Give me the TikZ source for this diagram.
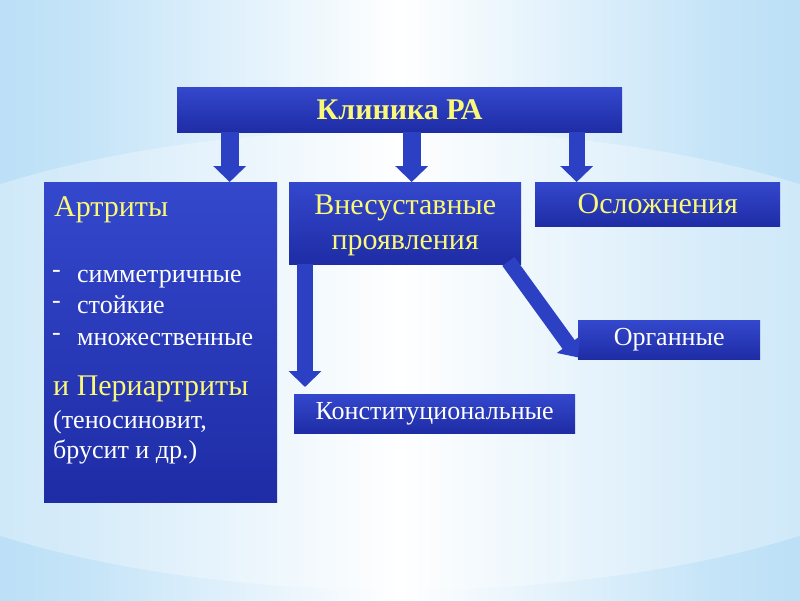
\documentclass[tikz,border=0pt]{standalone}
\usepackage{fontspec}
\setmainfont{Liberation Serif}
\usetikzlibrary{arrows.meta}
\definecolor{boxtop}{RGB}{52,72,205}
\definecolor{boxbot}{RGB}{30,44,165}
\definecolor{arrblue}{RGB}{44,64,196}
\definecolor{txtyellow}{RGB}{250,248,120}
\definecolor{skyblue}{RGB}{148,205,242}
\pgfdeclarehorizontalshading{skyband}{100bp}{color(0bp)=(skyblue); color(30bp)=(skyblue!55); color(50bp)=(white); color(70bp)=(skyblue!55); color(100bp)=(skyblue)}
\newcommand{\hdfont}{\fontsize{30}{35}\selectfont}
\newcommand{\itfont}{\fontsize{26}{30}\selectfont}
\tikzset{
    boxnode/.style={anchor=north west, inner sep=0pt, top color=boxtop, bottom color=boxbot},
    hdtext/.style={text=txtyellow, font=\hdfont},
    ittext/.style={text=white, font=\itfont},
    blockarrow/.style={draw=arrblue, line width=#1, -{Triangle[width=32pt,length=16pt]}},
}
\begin{document}
\begin{tikzpicture}[x=1pt,y=-1pt]
    % background
    \begin{scope}
        \clip (0,0) rectangle (800,600);
        \shade[shading=skyband] (0,0) rectangle (800,600);
        \fill[white, opacity=0.3] (400,360) ellipse (620 and 230);
    \end{scope}
    \useasboundingbox (0,0) rectangle (800,600);
    % boxes
    \node[boxnode, minimum width=445pt, minimum height=45pt] (klin) at (177,87)
        {\textcolor{txtyellow}{\hdfont\bfseries Клиника РА}};
    \node[boxnode, minimum width=233pt, minimum height=320pt] (artr) at (44,182) {};
    \node[boxnode, minimum width=232pt, minimum height=82pt] (vnes) at (289,182) {};
    \node[boxnode, minimum width=245pt, minimum height=44pt, hdtext] (osl) at (535,182) {Осложнения};
    \node[boxnode, minimum width=182pt, minimum height=39pt, ittext] (org) at (578,320) {Органные};
    \node[boxnode, minimum width=281pt, minimum height=39pt, ittext] (konst) at (294,394) {Конституциональные};
    \node[hdtext, align=center, inner sep=0pt, yshift=-2pt] (vnestxt) at (vnes.center) {Внесуставные\\проявления};
    % text of the left box
    \node[hdtext, anchor=base west, inner sep=0pt] (t1) at (54,216) {Артриты};
    \foreach \y/\w in {282/симметричные, 313/стойкие, 345/множественные}{
        \node[ittext, anchor=base west, inner sep=0pt] at (52,\y) {\raisebox{5pt}{-}};
        \node[ittext, anchor=base west, inner sep=0pt] at (77,\y) {\w};
    }
    \node[hdtext, anchor=base west, inner sep=0pt] (t2) at (53,395) {и Периартриты};
    \node[ittext, anchor=base west, inner sep=0pt] (t3) at (53,428) {(теносиновит,};
    \node[ittext, anchor=base west, inner sep=0pt] (t4) at (53,458) {брусит и др.)};
    % arrows
    \draw[blockarrow=18pt] ([xshift=-170pt]klin.south) -- ([xshift=-170pt]klin.south |- artr.north);
    \draw[blockarrow=18pt] ([xshift=12pt]klin.south) -- ([xshift=12pt]klin.south |- vnes.north);
    \draw[blockarrow=16pt] ([xshift=177pt]klin.south) -- ([xshift=177pt]klin.south |- osl.north);
    \draw[blockarrow=16pt, shorten >=7pt] ([xshift=16pt]vnes.south west) -- ([xshift=16pt]vnes.south west |- konst.north);
    \draw[blockarrow=15pt, -{Triangle[width=28pt,length=16pt]}] ([xshift=-13pt,yshift=3pt]vnes.south east) -- ([yshift=2pt]org.south west);
\end{tikzpicture}
\end{document}
